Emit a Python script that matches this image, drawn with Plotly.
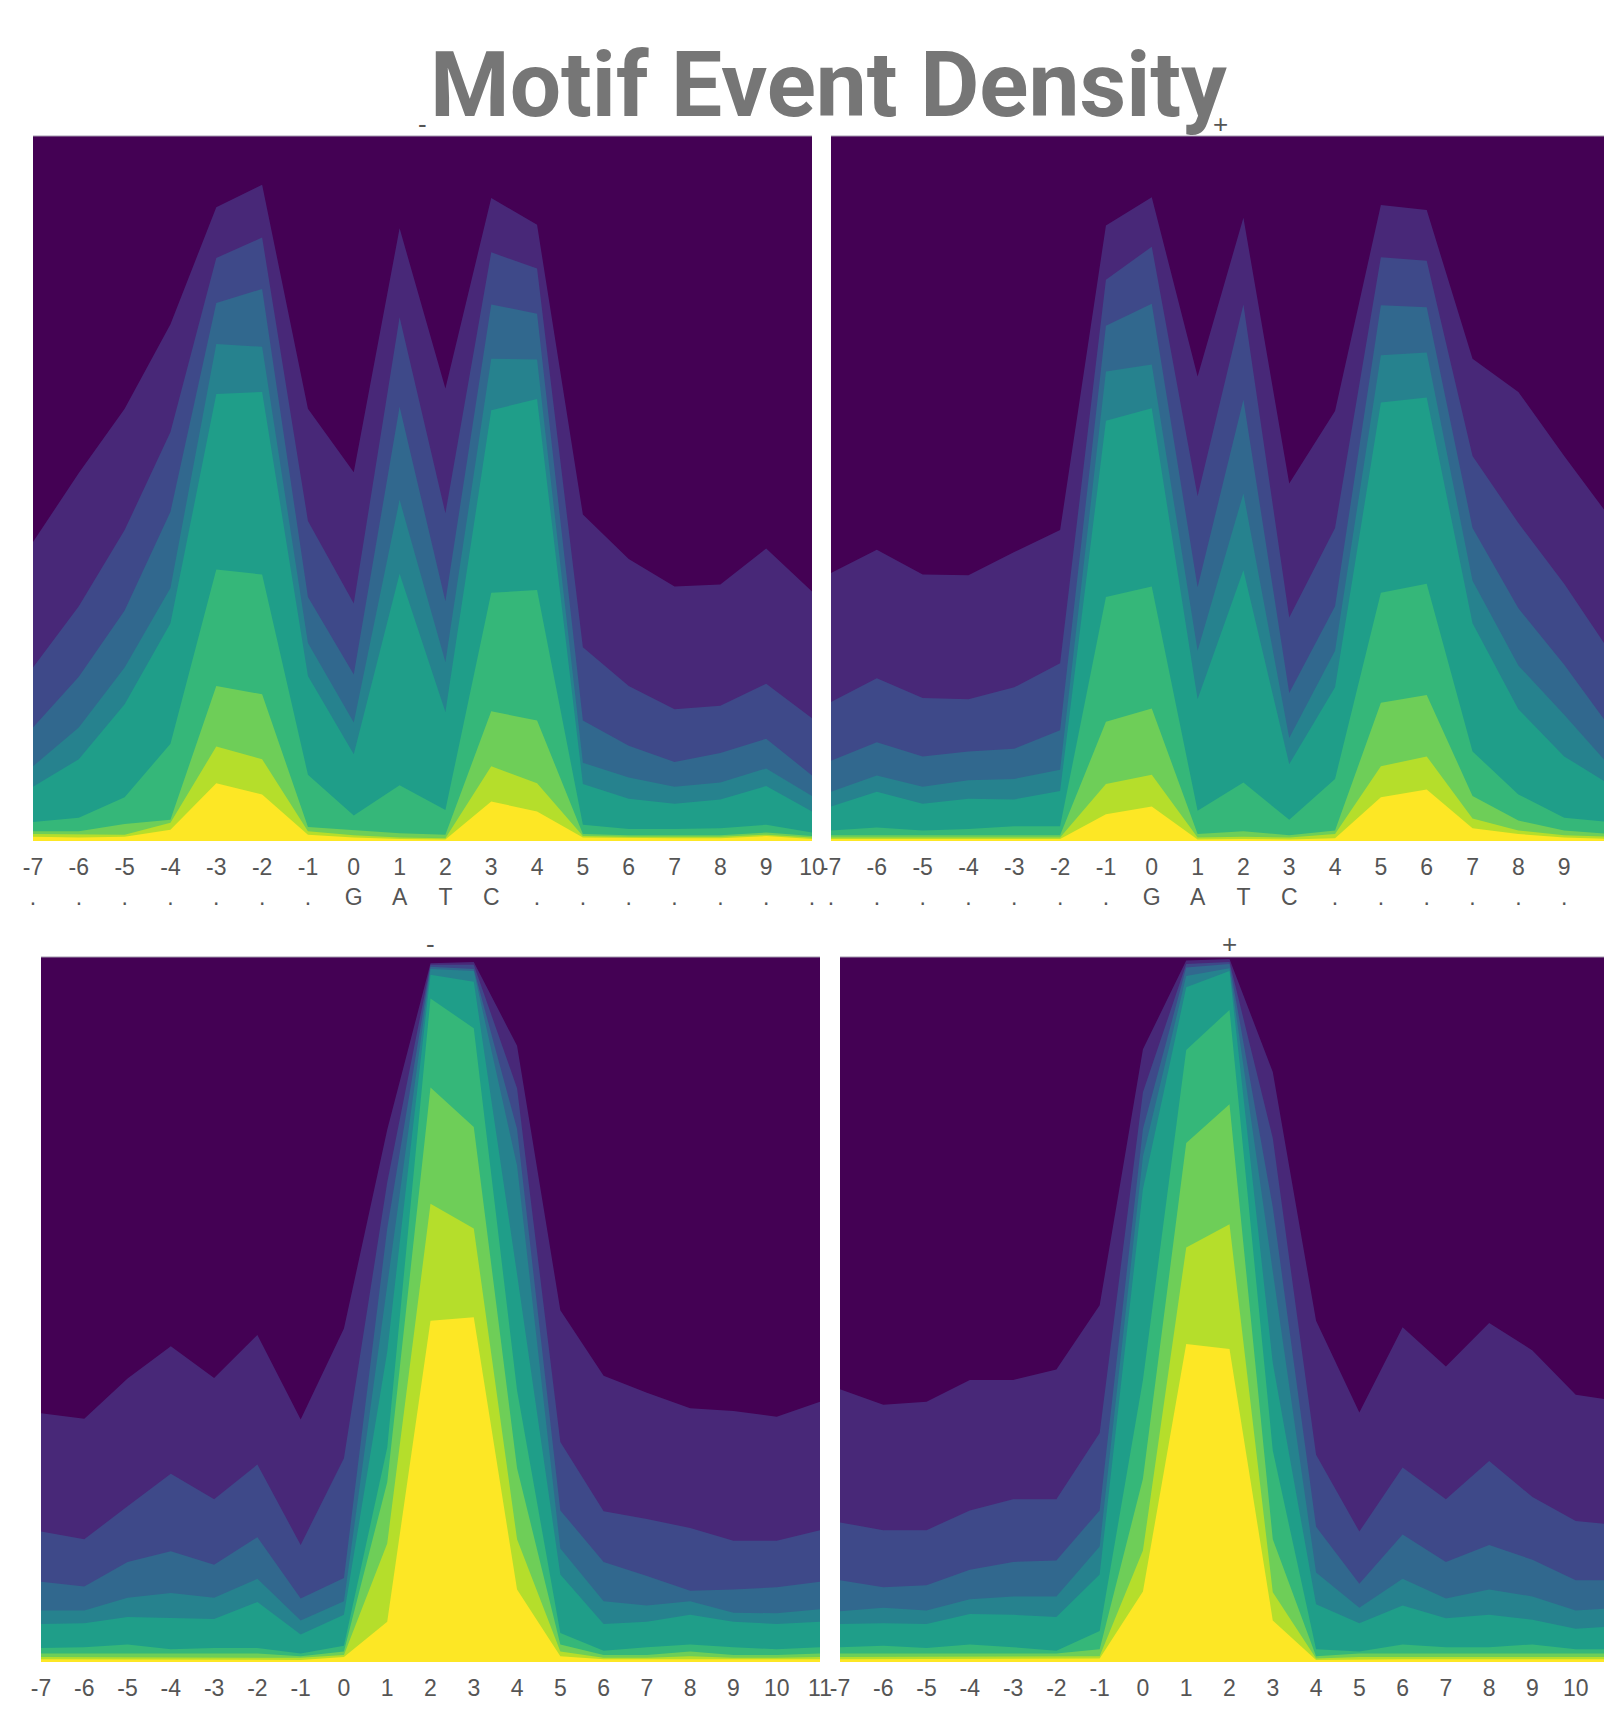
import plotly.graph_objects as go

# ---------------- data ----------------
TOP_X = [-7, -6, -5, -4, -3, -2, -1, 0, 1, 2, 3, 4, 5, 6, 7, 8, 9, 10]
TOP_NUM = ["-7", "-6", "-5", "-4", "-3", "-2", "-1", "0", "1", "2", "3", "4", "5", "6", "7", "8", "9", "10"]
TOP_SEQ = [".", ".", ".", ".", ".", ".", ".", "G", "A", "T", "C", ".", ".", ".", ".", ".", ".", "."]

BOT_X = [-7, -6, -5, -4, -3, -2, -1, 0, 1, 2, 3, 4, 5, 6, 7, 8, 9, 10, 11]
BOT_NUM = ["-7", "-6", "-5", "-4", "-3", "-2", "-1", "0", "1", "2", "3", "4", "5", "6", "7", "8", "9", "10", "11"]
BOT_SEQ = [".", ".", ".", ".", ".", ".", ".", "G", "C", ".", "G", "C", ".", ".", ".", ".", ".", ".", "."]

# contour level boundaries (height in % of the panel), from the outermost level inwards
TL_LEVELS = [
    [42.4, 52.2, 61.3, 73.3, 89.9, 93.1, 61.3, 52.3, 86.9, 64.2, 91.2, 87.4, 46.3, 40.0, 36.1, 36.4, 41.5, 35.4],
    [24.6, 33.3, 44.1, 58.0, 82.7, 85.6, 45.4, 33.7, 74.3, 46.5, 83.5, 81.2, 27.5, 22.0, 18.7, 19.2, 22.3, 17.4],
    [16.1, 23.3, 32.7, 46.7, 76.3, 78.3, 34.6, 23.6, 61.6, 34.0, 76.1, 74.8, 17.1, 13.5, 11.2, 12.5, 14.5, 9.3],
    [10.6, 16.1, 24.6, 35.9, 70.5, 70.1, 28.1, 16.8, 48.4, 25.4, 68.4, 68.3, 11.1, 9.0, 7.7, 8.3, 10.3, 6.4],
    [7.7, 11.6, 19.4, 30.9, 63.4, 63.7, 23.4, 12.3, 37.9, 18.3, 61.1, 62.7, 8.1, 6.0, 5.3, 5.9, 7.8, 4.2],
    [2.7, 3.3, 6.2, 13.8, 38.5, 37.8, 9.4, 3.6, 7.9, 4.4, 35.2, 35.6, 2.3, 1.7, 1.7, 1.8, 2.3, 1.2],
    [1.4, 1.4, 2.4, 3.0, 22.0, 20.8, 2.0, 1.5, 1.1, 0.9, 18.4, 17.1, 1.0, 0.8, 0.8, 0.8, 1.2, 0.7],
    [1.0, 0.9, 0.9, 2.6, 13.4, 11.6, 1.4, 0.8, 0.5, 0.4, 10.6, 8.2, 0.7, 0.6, 0.6, 0.6, 0.9, 0.5],
    [0.6, 0.5, 0.6, 1.6, 8.2, 6.6, 0.9, 0.5, 0.3, 0.2, 5.6, 4.2, 0.5, 0.4, 0.4, 0.4, 0.7, 0.3],
]
TR_LEVELS = [
    [38.0, 41.3, 37.8, 37.7, 41.0, 44.1, 87.3, 91.3, 65.9, 88.4, 50.7, 61.0, 90.2, 89.5, 68.4, 63.7, 54.6, 45.9],
    [19.7, 23.1, 20.3, 20.1, 21.8, 25.2, 79.6, 84.3, 48.9, 76.1, 31.7, 44.4, 82.8, 82.3, 54.6, 45.1, 36.5, 26.8],
    [11.4, 14.0, 12.0, 12.7, 13.1, 15.7, 73.1, 76.2, 36.0, 62.6, 21.0, 33.3, 76.0, 75.7, 44.4, 33.0, 25.0, 16.1],
    [7.0, 9.3, 7.7, 8.6, 8.8, 10.1, 66.6, 67.6, 27.0, 49.3, 14.6, 27.0, 68.9, 69.3, 36.9, 24.9, 17.9, 10.6],
    [4.9, 7.0, 5.3, 6.0, 5.9, 7.1, 59.6, 61.4, 20.1, 38.4, 10.9, 21.8, 62.2, 62.9, 30.9, 18.7, 12.0, 8.0],
    [1.5, 1.9, 1.5, 1.7, 2.1, 2.1, 34.6, 36.1, 4.3, 8.3, 3.0, 8.8, 35.2, 36.5, 12.7, 6.6, 3.3, 2.7],
    [0.8, 0.8, 0.8, 0.8, 0.8, 0.8, 16.9, 18.8, 1.0, 1.4, 0.8, 1.5, 19.6, 20.7, 6.4, 2.9, 1.5, 1.0],
    [0.5, 0.5, 0.5, 0.5, 0.5, 0.5, 8.1, 9.4, 0.5, 0.6, 0.5, 1.0, 10.6, 12.0, 3.2, 1.5, 0.8, 0.6],
    [0.3, 0.3, 0.3, 0.3, 0.3, 0.3, 3.8, 4.9, 0.2, 0.3, 0.2, 0.4, 6.2, 7.3, 1.8, 1.0, 0.5, 0.3],
]
BL_LEVELS = [
    [35.3, 34.5, 40.2, 44.8, 40.3, 46.4, 34.4, 47.3, 75.5, 99.1, 99.3, 87.4, 49.9, 40.6, 38.2, 36.0, 35.6, 34.8, 36.9],
    [18.5, 17.4, 22.1, 26.7, 23.1, 28.0, 16.6, 28.9, 68.0, 98.9, 98.9, 81.4, 31.2, 21.4, 20.3, 19.0, 17.2, 17.2, 18.7],
    [11.4, 10.7, 14.2, 15.7, 13.8, 17.7, 9.0, 11.9, 61.5, 98.6, 98.3, 75.6, 21.5, 14.2, 12.2, 10.1, 10.3, 10.6, 11.4],
    [7.3, 7.3, 9.1, 9.8, 9.1, 11.8, 5.9, 8.6, 53.4, 98.3, 98.0, 70.4, 16.1, 8.6, 8.0, 8.6, 7.0, 6.9, 7.5],
    [5.4, 5.5, 6.4, 6.2, 6.1, 8.5, 3.9, 6.7, 44.0, 97.5, 96.5, 55.0, 12.4, 5.4, 5.7, 6.7, 5.7, 5.4, 5.7],
    [2.0, 2.1, 2.5, 1.8, 2.0, 2.0, 1.2, 2.3, 30.4, 94.1, 89.9, 38.5, 4.1, 1.6, 2.1, 2.5, 2.1, 1.8, 2.1],
    [1.2, 1.2, 1.2, 1.2, 1.2, 1.2, 0.8, 1.5, 25.5, 81.5, 75.9, 27.5, 2.5, 1.0, 1.0, 1.5, 1.0, 1.0, 1.2],
    [0.7, 0.7, 0.7, 0.7, 0.7, 0.7, 0.6, 1.0, 16.8, 65.0, 61.5, 17.4, 1.5, 0.6, 0.6, 0.8, 0.6, 0.6, 0.7],
    [0.4, 0.4, 0.4, 0.4, 0.4, 0.4, 0.3, 0.7, 5.7, 48.4, 48.9, 10.3, 0.8, 0.4, 0.4, 0.5, 0.4, 0.4, 0.4],
]
BR_LEVELS = [
    [38.7, 36.5, 36.9, 40.0, 40.0, 41.5, 50.6, 86.9, 99.5, 99.7, 83.7, 48.4, 35.4, 47.5, 41.9, 48.1, 44.2, 37.9, 37.0],
    [19.8, 18.7, 18.7, 21.5, 23.1, 23.1, 32.5, 80.8, 99.0, 99.3, 74.3, 29.4, 18.5, 27.6, 23.1, 28.5, 23.4, 20.0, 19.4],
    [11.6, 10.6, 10.9, 13.1, 14.2, 14.4, 21.5, 75.6, 98.5, 99.0, 64.5, 19.2, 11.1, 18.1, 14.2, 16.6, 14.5, 11.6, 11.6],
    [7.2, 7.7, 7.3, 8.9, 9.3, 9.3, 16.4, 71.7, 97.3, 98.4, 55.4, 12.7, 7.7, 11.8, 9.0, 10.3, 9.3, 7.3, 7.7],
    [5.4, 5.5, 5.4, 6.8, 6.7, 6.4, 12.4, 67.1, 95.7, 98.0, 42.4, 8.2, 5.5, 8.0, 6.2, 6.7, 6.0, 4.7, 5.1],
    [2.1, 2.3, 2.0, 2.5, 2.1, 1.6, 4.4, 40.0, 86.8, 92.5, 30.0, 1.8, 1.5, 2.5, 2.1, 2.1, 2.5, 1.8, 1.8],
    [1.2, 1.2, 1.2, 1.2, 1.2, 1.2, 1.8, 26.0, 73.6, 79.1, 17.4, 0.8, 1.2, 1.2, 1.2, 1.2, 1.2, 1.2, 1.2],
    [0.7, 0.7, 0.7, 0.7, 0.7, 0.7, 0.8, 15.8, 58.8, 62.1, 9.9, 0.5, 0.7, 0.7, 0.7, 0.7, 0.7, 0.7, 0.7],
    [0.4, 0.4, 0.4, 0.4, 0.4, 0.4, 0.5, 10.0, 45.1, 44.4, 5.9, 0.3, 0.4, 0.4, 0.4, 0.4, 0.4, 0.4, 0.4],
]
PANEL_TITLES = ["-", "+", "-", "+"]
TITLE = "Motif Event Density"

# ---------------- style ----------------
BG = "#440154"
BAND_COLORS = ["#482878", "#3e4989", "#31688e", "#26828e", "#1f9e89",
               "#35b779", "#6ece58", "#b5de2b", "#fde725"]
W, H = 1604, 1709
TICK_FONT = dict(family="Liberation Sans, Arial, sans-serif", size=23, color="#555555")

# panel boxes in pixels: (left, full-width right, top, bottom, n units, title y)
PANELS = [
    (33, 812, 136, 841, 17, 124),
    (831, 1610, 136, 841, 17, 124),
    (41, 820, 957, 1662, 18, 944),
    (840, 1619, 957, 1662, 18, 944),
]
PANEL_DATA = [
    (TOP_X, TOP_NUM, TOP_SEQ, TL_LEVELS),
    (TOP_X, TOP_NUM, TOP_SEQ, TR_LEVELS),
    (BOT_X, BOT_NUM, BOT_SEQ, BL_LEVELS),
    (BOT_X, BOT_NUM, BOT_SEQ, BR_LEVELS),
]

fig = go.Figure()
layout = {}
annotations = []
shapes = []
for i, ((l, r, t, b, units, ty), (xs, nums, seq, levels)) in enumerate(zip(PANELS, PANEL_DATA)):
    n = "" if i == 0 else str(i + 1)
    per = (r - l) / units
    r_vis = min(r, W)
    xr = [xs[0], xs[0] + (r_vis - l) / per]
    for lev, col in zip(levels, BAND_COLORS):
        fig.add_trace(go.Scatter(
            x=xs, y=lev, mode="lines", fill="tozeroy", fillcolor=col,
            line=dict(width=0, color=col), hoverinfo="skip", showlegend=False,
            xaxis="x" + n, yaxis="y" + n))
    layout["xaxis" + n] = dict(
        domain=[l / W, r_vis / W], range=xr, anchor="y" + n,
        tickmode="array", tickvals=xs,
        ticktext=[f"{a}<br>{s}" for a, s in zip(nums, seq)],
        ticks="", showgrid=False, zeroline=False, showline=False,
        tickfont=TICK_FONT, ticklabelstandoff=10, automargin=False,
        fixedrange=True)
    layout["yaxis" + n] = dict(
        domain=[1 - b / H, 1 - t / H], range=[0, 100], anchor="x" + n,
        visible=False, showgrid=False, zeroline=False, automargin=False,
        fixedrange=True)
    # faint light edge along the top of each panel
    shapes.append(dict(type="line", xref=f"x{n} domain", yref=f"y{n} domain",
                       x0=0, x1=1, y0=1, y1=1, line=dict(color="#a39aae", width=1)))
    annotations.append(dict(
        text=PANEL_TITLES[i], xref="paper", yref="paper",
        x=((l + r) / 2) / W, y=1 - ty / H,
        xanchor="center", yanchor="middle", showarrow=False,
        font=dict(family="Liberation Sans, Arial, sans-serif", size=26, color="#555555")))

annotations.append(dict(
    text=f"<b>{TITLE}</b>", xref="paper", yref="paper",
    x=828 / W, y=1 - 85 / H, xanchor="center", yanchor="middle", showarrow=False,
    font=dict(family="Roboto, Lato, sans-serif", size=91, color="#767676")))

fig.update_layout(
    width=W, height=H, margin=dict(l=0, r=0, t=0, b=0, pad=0, autoexpand=False),
    paper_bgcolor="white", plot_bgcolor=BG,
    annotations=annotations, shapes=shapes, **layout)

fig.write_html("out.html", config={"displayModeBar": False, "staticPlot": True},
               post_script="document.body.style.margin='0';document.body.style.overflow='hidden';")
